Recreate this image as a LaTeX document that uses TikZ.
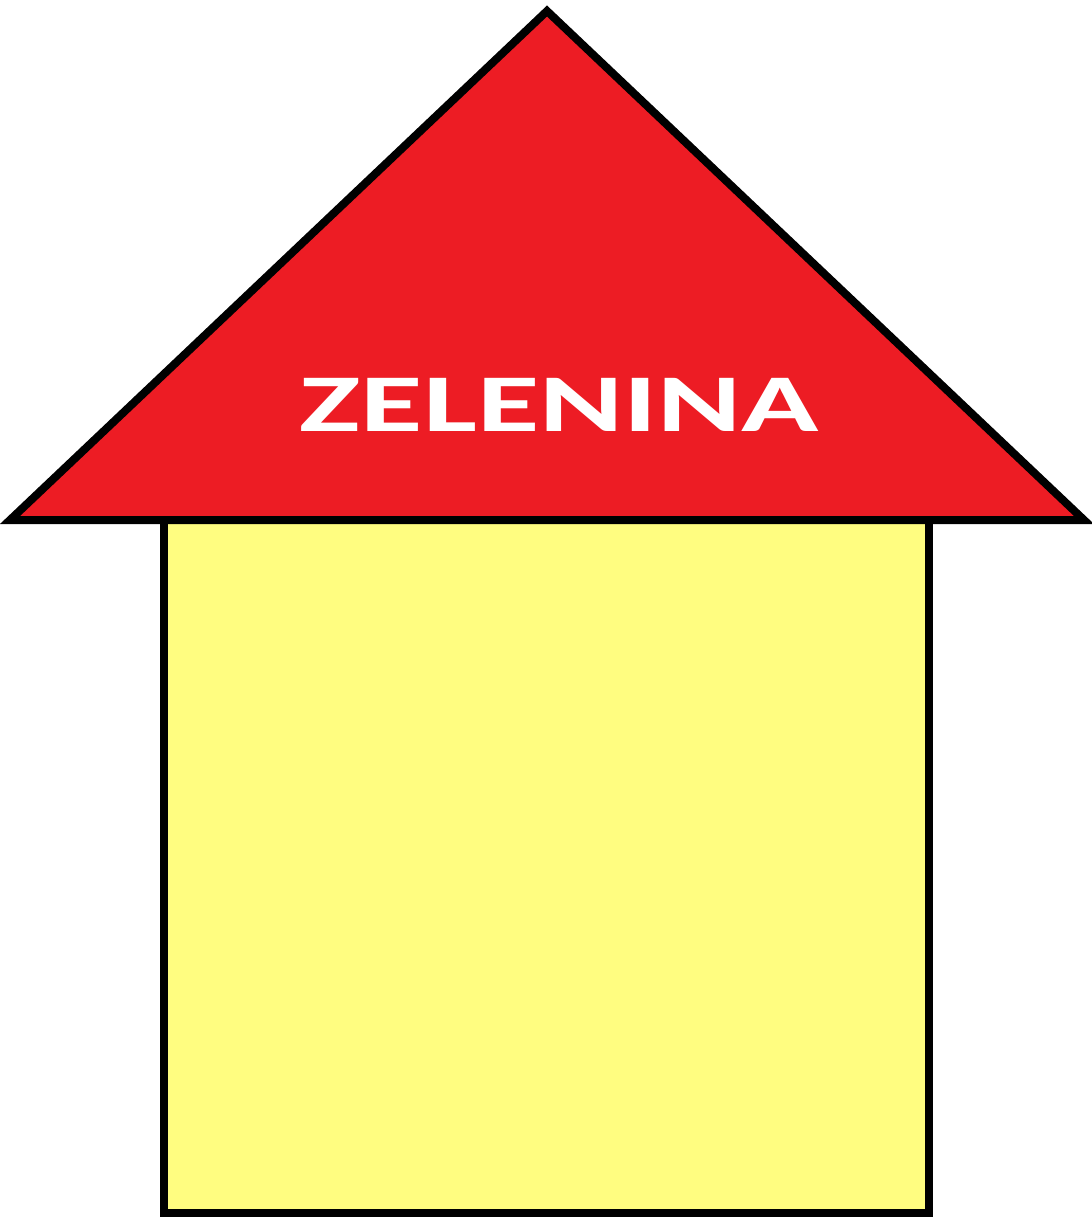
\documentclass[tikz,border=0pt]{standalone}
\usepackage{fontspec}
\setmainfont{Carlito}
\definecolor{roofred}{HTML}{ED1C24}
\definecolor{wallyellow}{HTML}{FFFD80}
\begin{document}
\begin{tikzpicture}[x=1pt,y=-1pt,
  outline/.style={draw=black,line width=8pt,line join=miter},
  label/.style={text=white,font=\fontsize{82}{90}\selectfont\bfseries,inner sep=0pt,anchor=base,xscale=1.557}]
\useasboundingbox (0,0) rectangle (1092,1218);
\fill[white] (0,0) rectangle (1092,1218);
\coordinate (wl) at (164,520);
\coordinate (wr) at (929,1213);
\draw[outline,fill=wallyellow] (wl) rectangle (wr);
\coordinate (apex) at (547,11);
\coordinate (rl) at (10,520);
\coordinate (rr) at (1084,520);
\draw[outline,fill=roofred] (rl) -- (apex) -- (rr) -- cycle;
\node[label] (title) at (559.5,431) {ZELENINA};
\end{tikzpicture}
\end{document}
